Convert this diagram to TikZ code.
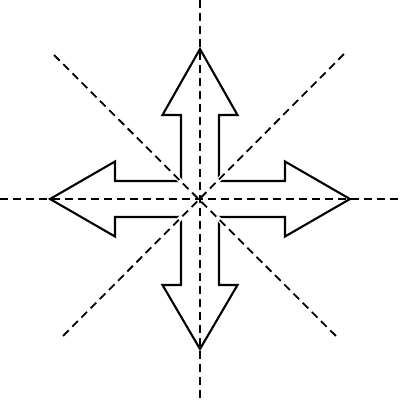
\documentclass[tikz,border=0pt]{standalone}
\begin{document}
\begin{tikzpicture}[x=1pt,y=-1pt,
  outline/.style={draw=black,line width=2.1pt,line join=miter,fill=white},
  guide/.style={draw=black,line width=1.8pt,dash pattern=on 8pt off 5pt},
  halo/.style={draw=white,line width=4.5pt}]
\useasboundingbox (0,0) rectangle (400,400);
\fill[white] (0,0) rectangle (400,400);
\coordinate (c) at (200,199);
% four-way arrow
\draw[outline] (181,181) -- (181,115) -- (162.5,115) -- (200,49) -- (237.5,115) -- (219,115) -- (219,181)
  -- (285,181) -- (285,161.5) -- (350,199) -- (285,236.5) -- (285,217) -- (219,217)
  -- (219,285) -- (237.5,285) -- (200,349) -- (162.5,285) -- (181,285) -- (181,217)
  -- (115,217) -- (115,236.5) -- (50,199) -- (115,161.5) -- (115,181) -- cycle;
% guides
\coordinate (d1a) at (54,55);
\coordinate (d1b) at (338,338);
\coordinate (d2a) at (344,54);
\coordinate (d2b) at (62,337);
\draw[halo] (d1a) -- (d1b);
\draw[halo] (d2a) -- (d2b);
\draw[guide] (200,0) -- (200,400);
\draw[guide] (0,199) -- (400,199);
\draw[guide] (d1a) -- (d1b);
\draw[guide] (d2a) -- (d2b);
\end{tikzpicture}
\end{document}
